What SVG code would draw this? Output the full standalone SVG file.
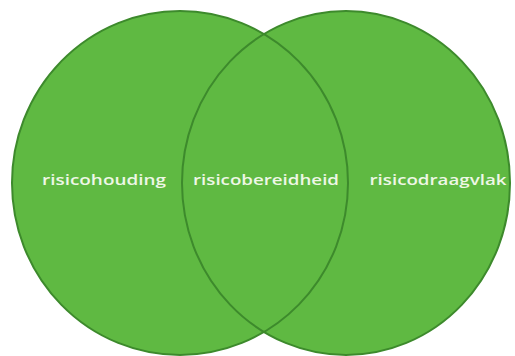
<svg xmlns="http://www.w3.org/2000/svg" width="515" height="356" viewBox="0 0 515 356">
<style>
.fill{fill:#5fb942;stroke:none}
.edge{fill:none;stroke:#3d8a2c;stroke-width:2}
.lbl{font-family:"Open Sans","Liberation Sans",sans-serif;font-size:15px;font-weight:600;fill:#eef7e6;text-anchor:middle}
</style>
<rect width="515" height="356" fill="#ffffff"/>
<g id="risicohouding">
<ellipse class="fill" cx="180" cy="183" rx="168" ry="172"/>
</g>
<g id="risicodraagvlak">
<ellipse class="fill" cx="346" cy="183" rx="164" ry="172"/>
</g>
<g id="outlines">
<ellipse class="edge" cx="180" cy="183" rx="168" ry="172"/>
<ellipse class="edge" cx="346" cy="183" rx="164" ry="172"/>
</g>
<g id="labels">
<text class="lbl" x="104" y="185" textLength="124" lengthAdjust="spacingAndGlyphs">risicohouding</text>
<text class="lbl" x="266" y="185" textLength="146" lengthAdjust="spacingAndGlyphs">risicobereidheid</text>
<text class="lbl" x="438" y="185" textLength="137" lengthAdjust="spacingAndGlyphs">risicodraagvlak</text>
</g>
</svg>
